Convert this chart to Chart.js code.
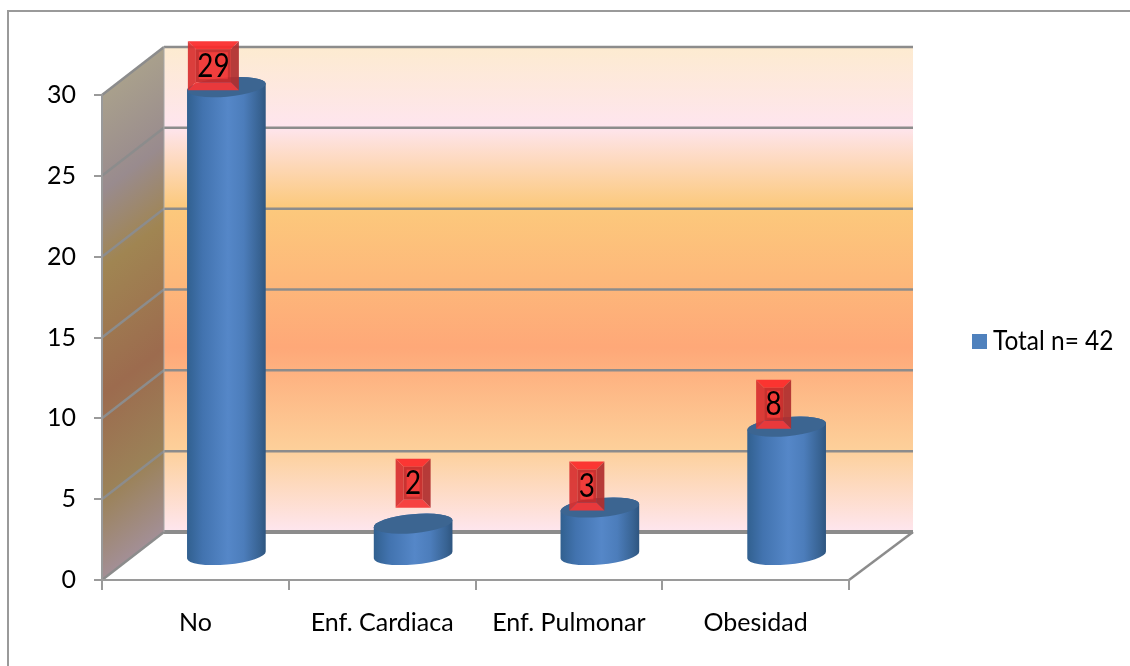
<!DOCTYPE html>
<html>
<head>
<meta charset="utf-8">
<style>
  html, body { margin: 0; padding: 0; background: #fff; overflow: hidden; }
  #wrap { position: relative; width: 1130px; height: 666px; }
</style>
<script src="https://cdn.jsdelivr.net/npm/chart.js@4"></script>
</head>
<body>
<div id="wrap"><canvas id="chart" width="1130" height="666"></canvas></div>
<script>
const categories = ["No", "Enf. Cardiaca", "Enf. Pulmonar", "Obesidad"];
const totals = [29, 2, 3, 8];
const seriesName = "Total n= 42";

// Data labels were dragged by hand in the original, so each has its own nudge.
const labelShiftX = [-13, 0, -13, -13];
const labelShiftY = [3, -16, 3, 2];

const FONT = 'Lato, "Liberation Sans", sans-serif';
const DEPTH_X = 62;
const DEPTH_Y = -48;
const LINE = "#8c8c8c";

const backStops = [
  [0, "#fdebd0"], [0.165, "#fee5ee"], [0.33, "#fcc97c"],
  [0.62, "#fea878"], [0.83, "#fdd09a"], [1, "#fee6ef"],
];
const sideStops = [
  [0, "#a9a08c"], [0.2, "#998b8e"], [0.36, "#a08552"],
  [0.62, "#9c6b4e"], [0.83, "#9b8258"], [1, "#a38f96"],
];

function stroke(ctx, x0, y0, x1, y1, width) {
  ctx.lineWidth = width;
  ctx.beginPath();
  ctx.moveTo(x0, y0);
  ctx.lineTo(x1, y1);
  ctx.stroke();
}

// Calibri in the original is narrower than anything installed, so squeeze the text a little.
function squeezedText(ctx, text, x, y, squeeze) {
  ctx.save();
  ctx.translate(x, y);
  ctx.scale(squeeze, 1);
  ctx.fillText(text, 0, 0);
  ctx.restore();
}

// Cylinder stands half way into the floor, so the bar element is shifted by half the depth.
Chart.BarElement.prototype.draw = function (ctx) {
  const cx = this.x + DEPTH_X / 2;
  const top = this.y + DEPTH_Y / 2;
  const bot = this.base + DEPTH_Y / 2;
  const rx = this.width / 2;
  const ry = 9.5;
  const rot = -0.09;

  const body = ctx.createLinearGradient(cx - rx, 0, cx + rx, 0);
  body.addColorStop(0, "#31608f");
  body.addColorStop(0.2, "#4273af");
  body.addColorStop(0.52, "#5587c8");
  body.addColorStop(0.72, "#4c7dbb");
  body.addColorStop(0.92, "#386393");
  body.addColorStop(1, "#2e557f");

  ctx.save();
  ctx.fillStyle = body;
  ctx.beginPath();
  ctx.ellipse(cx, bot, rx, ry, rot, 0, Math.PI);
  ctx.ellipse(cx, top, rx, ry, rot, Math.PI, 2 * Math.PI);
  ctx.closePath();
  ctx.fill();

  ctx.fillStyle = "#3c6591";
  ctx.beginPath();
  ctx.ellipse(cx, top, rx, ry, rot, 0, 2 * Math.PI);
  ctx.fill();
  ctx.restore();
};

// Back wall, side wall and floor, placed from the y scale so gridlines follow the ticks.
const walls = {
  id: "walls",
  beforeDraw(chart) {
    const { ctx, chartArea: a, scales: { y } } = chart;
    const left = a.left, right = a.right, top = a.top, bottom = a.bottom;

    ctx.save();
    // outer frame, only top and left reach the picture
    ctx.strokeStyle = "#9a9a9a";
    stroke(ctx, 8, 11, 1130, 11, 2);
    stroke(ctx, 8, 10, 8, 666, 2);

    const back = ctx.createLinearGradient(0, top + DEPTH_Y, 0, bottom + DEPTH_Y);
    backStops.forEach(([t, c]) => back.addColorStop(t, c));
    ctx.fillStyle = back;
    ctx.fillRect(left + DEPTH_X, top + DEPTH_Y, right - left + 2, bottom - top);

    // side gradient runs square to the sloped gridlines
    const len = Math.hypot(DEPTH_X, DEPTH_Y);
    const dist = (bottom - top) * DEPTH_X / len;
    const side = ctx.createLinearGradient(
      left, top,
      left - DEPTH_Y / len * dist, top + DEPTH_X / len * dist
    );
    sideStops.forEach(([t, c]) => side.addColorStop(t, c));
    ctx.fillStyle = side;
    ctx.beginPath();
    ctx.moveTo(left, top);
    ctx.lineTo(left + DEPTH_X, top + DEPTH_Y);
    ctx.lineTo(left + DEPTH_X, bottom + DEPTH_Y);
    ctx.lineTo(left, bottom);
    ctx.closePath();
    ctx.fill();

    ctx.strokeStyle = LINE;
    y.ticks.forEach((t) => {
      const py = y.getPixelForValue(t.value);
      const w = t.value === 0 ? 4 : 2.5;
      stroke(ctx, left, py, left + DEPTH_X, py + DEPTH_Y, 2.5);
      stroke(ctx, left + DEPTH_X, py + DEPTH_Y, right + DEPTH_X + 2, py + DEPTH_Y, w);
    });
    stroke(ctx, right, bottom, right + DEPTH_X + 2, bottom + DEPTH_Y, 2.5);
    ctx.strokeStyle = "#a8a8a8";
    stroke(ctx, left + DEPTH_X, top + DEPTH_Y, left + DEPTH_X, bottom + DEPTH_Y, 1);
    ctx.restore();
  },
};

function bevelBox(ctx, x, y, w, h) {
  const b = 8;
  const face = (color, pts) => {
    ctx.fillStyle = color;
    ctx.beginPath();
    pts.forEach(([px, py], i) => (i ? ctx.lineTo(px, py) : ctx.moveTo(px, py)));
    ctx.closePath();
    ctx.fill();
  };
  const x1 = x + w, y1 = y + h;
  ctx.save();
  ctx.globalAlpha = 0.93;
  face("#fb2a2a", [[x, y], [x1, y], [x1 - b, y + b], [x + b, y + b]]);
  face("#d83030", [[x, y], [x + b, y + b], [x + b, y1 - b], [x, y1]]);
  face("#b02e2e", [[x1, y], [x1, y1], [x1 - b, y1 - b], [x1 - b, y + b]]);
  face("#f53636", [[x, y1], [x + b, y1 - b], [x1 - b, y1 - b], [x1, y1]]);
  ctx.fillStyle = "#ef3030";
  ctx.fillRect(x + b, y + b, w - 2 * b, h - 2 * b);
  // dark rim just inside the bevel
  ctx.strokeStyle = "rgba(120,30,30,0.35)";
  ctx.lineWidth = 3;
  ctx.strokeRect(x + b + 1.5, y + b + 1.5, w - 2 * b - 3, h - 2 * b - 3);
  ctx.restore();
}

const valueLabels = {
  id: "valueLabels",
  afterDatasetsDraw(chart) {
    const { ctx } = chart;
    chart.getDatasetMeta(0).data.forEach((bar, i) => {
      const text = String(totals[i]);
      const w = text.length > 1 ? 51 : 35;
      const h = 49;
      const cx = bar.x + DEPTH_X / 2 + labelShiftX[i];
      const bottom = bar.y + DEPTH_Y / 2 + labelShiftY[i];
      bevelBox(ctx, cx - w / 2, bottom - h, w, h);
      ctx.fillStyle = "#000";
      ctx.font = "32px " + FONT;
      ctx.textAlign = "center";
      ctx.textBaseline = "middle";
      squeezedText(ctx, text, cx, bottom - h / 2 + 1, 0.87);
    });
  },
};

// The Office legend keeps the text close to the swatch, closer than the stock legend allows.
const sideLegend = {
  id: "sideLegend",
  afterDraw(chart) {
    const { ctx } = chart;
    const ds = chart.data.datasets[0];
    ctx.save();
    ctx.fillStyle = ds.backgroundColor;
    ctx.fillRect(972, 334, 15, 15);
    ctx.fillStyle = "#000";
    ctx.font = "26px " + FONT;
    ctx.textAlign = "left";
    ctx.textBaseline = "middle";
    squeezedText(ctx, ds.label, 993, 342, 0.94);
    ctx.restore();
  },
};

new Chart(document.getElementById("chart").getContext("2d"), {
  type: "bar",
  data: {
    labels: categories,
    datasets: [{
      label: seriesName,
      data: totals,
      backgroundColor: "#4f81bd",
      barPercentage: 0.423,
      categoryPercentage: 1,
      clip: false,
    }],
  },
  options: {
    responsive: false,
    animation: false,
    layout: { padding: { top: 95, right: 281, left: 0, bottom: 0 } },
    scales: {
      x: {
        afterFit: (s) => { s.height = 86; },
        grid: { drawOnChartArea: false, color: "#9a9a9a", lineWidth: 2, tickLength: 10 },
        border: { color: "#9a9a9a", width: 2 },
        ticks: { color: "#000", font: { family: FONT, size: 25 }, padding: 18, maxRotation: 0 },
      },
      y: {
        min: 0,
        max: 30,
        afterFit: (s) => { s.width = 102; },
        grid: { drawOnChartArea: false, color: "#9a9a9a", lineWidth: 2, tickLength: 8 },
        border: { color: "#9a9a9a", width: 2 },
        ticks: { stepSize: 5, color: "#000", font: { family: FONT, size: 25 }, padding: 18 },
      },
    },
    plugins: {
      legend: { display: false },
      tooltip: { enabled: false },
    },
  },
  plugins: [walls, valueLabels, sideLegend],
});
</script>
</body>
</html>
